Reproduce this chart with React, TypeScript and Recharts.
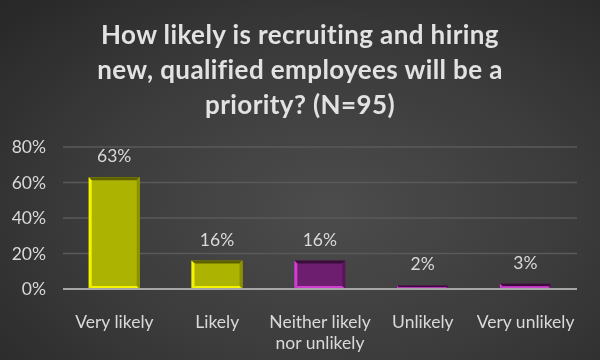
import React from "react";
import { BarChart, Bar, XAxis, YAxis, CartesianGrid, Cell, LabelList } from "recharts";

const categories = ["Very likely", "Likely", "Neither likely\nnor unlikely", "Unlikely", "Very unlikely"];
const values = [0.63, 0.16, 0.16, 0.02, 0.03];
const valueLabels = ["63%", "16%", "16%", "2%", "3%"];
const colorGroups = ["olive", "olive", "purple", "purple", "purple"];
const yTicks = [0, 0.2, 0.4, 0.6, 0.8];
const yTickLabels = ["0%", "20%", "40%", "60%", "80%"];
const titleLines = [
  "How likely is recruiting and hiring",
  "new, qualified employees will be a",
  "priority? (N=95)",
];

const palette: Record<string, { base: string; light: string; dark: string; side: string }> = {
  olive: { base: "#acb300", light: "#f4f400", dark: "#5e6100", side: "#8c9100" },
  purple: { base: "#6e1e6e", light: "#d040d0", dark: "#3a0c3a", side: "#571657" },
};

const data = categories.map((c, i) => ({
  name: c,
  value: values[i],
  label: valueLabels[i],
  group: colorGroups[i],
}));

const FONT = "Lato, 'Open Sans', 'DejaVu Sans', sans-serif";

const BevelBar = (props: any) => {
  const { x, y, width: w, height: h, payload } = props;
  if (w == null || h == null || h <= 0) return null;
  const p = palette[payload.group];
  const b = Math.min(3, h / 2, w / 2);
  return (
    <g>
      <rect x={x} y={y} width={w} height={h} fill={p.base} />
      <polygon points={`${x},${y} ${x + w},${y} ${x + w - b},${y + b} ${x + b},${y + b}`} fill={p.dark} />
      <polygon points={`${x + w},${y} ${x + w},${y + h} ${x + w - b},${y + h - b} ${x + w - b},${y + b}`} fill={p.side} />
      <polygon points={`${x},${y} ${x + b},${y + b} ${x + b},${y + h - b} ${x},${y + h}`} fill={p.light} />
      <polygon points={`${x},${y + h} ${x + b},${y + h - b} ${x + w - b},${y + h - b} ${x + w},${y + h}`} fill={p.light} />
    </g>
  );
};

const YTick = (props: any) => {
  const { y, payload } = props;
  const idx = yTicks.indexOf(payload.value);
  return (
    <text x={46} y={y + 6} textAnchor="end" fill="#d9d9d9" fontSize={17.5} fontFamily={FONT}>
      {yTickLabels[idx]}
    </text>
  );
};

const XTick = (props: any) => {
  const { x, y, payload } = props;
  const lines = String(payload.value).split("\n");
  return (
    <g>
      {lines.map((l, i) => (
        <text key={i} x={x} y={y + 31 + i * 20.5} textAnchor="middle" fill="#d9d9d9" fontSize={17.5} fontFamily={FONT}>
          {l}
        </text>
      ))}
    </g>
  );
};

const TopLabel = (props: any) => {
  const { x, y, width, value } = props;
  return (
    <text x={x + width / 2} y={y - 15} textAnchor="middle" fill="#d9d9d9" fontSize={17.5} fontFamily={FONT}>
      {value}
    </text>
  );
};

export default function App() {
  return (
    <div
      style={{
        position: "fixed",
        left: 0,
        top: 0,
        width: 600,
        height: 360,
        background: "radial-gradient(ellipse 75% 80% at 55% 58%, #4c4c4c 0%, #3b3b3b 55%, #282828 100%)",
        overflow: "hidden",
      }}
    >
      <svg width={600} height={130} style={{ position: "absolute", left: 0, top: 0 }}>
        {titleLines.map((t, i) => (
          <text
            key={i}
            x={300}
            y={44 + i * 35}
            textAnchor="middle"
            fill="#e2e2e2"
            fontSize={26}
            letterSpacing={0.4}
            fontWeight="bold"
            fontFamily={FONT}
          >
            {t}
          </text>
        ))}
      </svg>
      <div style={{ position: "absolute", left: 0, top: 0 }}>
        <BarChart
          width={600}
          height={360}
          data={data}
          margin={{ top: 147, right: 23, bottom: 0, left: 0 }}
          barCategoryGap="25%"
        >
          <CartesianGrid vertical={false} stroke="#5a5a5a" strokeWidth={1.5} />
          <XAxis
            dataKey="name"
            height={71}
            interval={0}
            tickLine={false}
            axisLine={{ stroke: "#a6a6a6", strokeWidth: 2 }}
            tick={<XTick />}
          />
          <YAxis
            width={63}
            domain={[0, 0.8]}
            ticks={yTicks}
            axisLine={false}
            tickLine={false}
            tick={<YTick />}
          />
          <Bar dataKey="value" isAnimationActive={false} shape={<BevelBar />}>
            {data.map((d, i) => (
              <Cell key={i} fill={palette[d.group].base} />
            ))}
            <LabelList dataKey="label" content={<TopLabel />} />
          </Bar>
        </BarChart>
      </div>
    </div>
  );
}
